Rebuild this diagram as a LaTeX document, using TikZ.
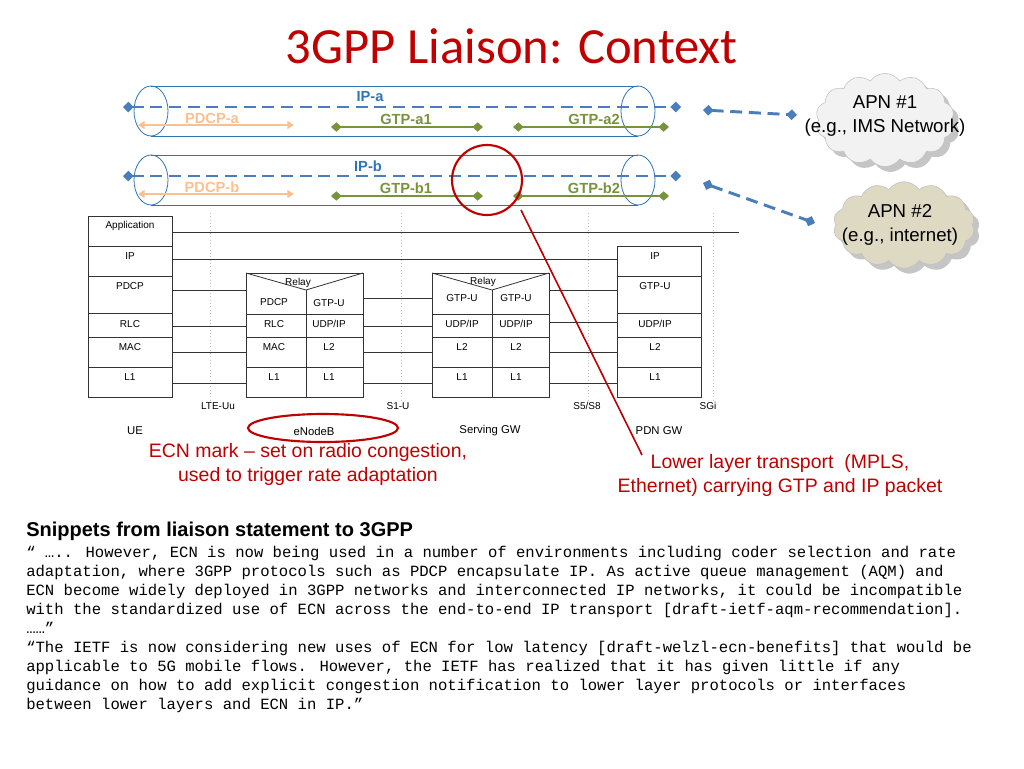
\documentclass[tikz,border=0pt]{standalone}
\usepackage{fontspec}
\setmainfont{Liberation Sans}
\newfontfamily\titlefont{Carlito}
\newfontfamily\monofont{Liberation Mono}
\usetikzlibrary{shapes.symbols,arrows.meta,shadows}
\definecolor{ttl}{HTML}{C00000}
\definecolor{ipb}{HTML}{4A7EBB}
\definecolor{pipe}{HTML}{2E75B6}
\definecolor{gtp}{HTML}{77933C}
\definecolor{pdcp}{HTML}{FAC090}
\definecolor{cl1}{HTML}{F2F2F2}
\definecolor{cl2}{HTML}{DDD9C3}
\begin{document}
\begin{tikzpicture}[x=0.75pt,y=-0.75pt,
  lab/.style={font=\fontsize{7.5}{9}\selectfont,inner sep=0pt},
  stk/.style={draw=black!80,line width=0.6pt},
  conn/.style={draw=black!80,line width=0.6pt},
  dotv/.style={draw=black!25,dotted,line width=0.5pt},
  ipline/.style={draw=ipb,line width=2.2pt,dash pattern=on 9pt off 5pt,{Diamond[length=8pt,width=8pt]}-{Diamond[length=8pt,width=8pt]}},
  gtpline/.style={draw=gtp,line width=2pt,{Diamond[length=8pt,width=7pt]}-{Diamond[length=8pt,width=7pt]}},
  pdcpline/.style={draw=pdcp,line width=2pt,{Triangle[length=5pt,width=6pt]}-{Triangle[length=5pt,width=6pt]}},
  plab/.style={font=\bfseries\fontsize{11}{13}\selectfont,inner sep=0pt},
  cloudn/.style={cloud,cloud puffs=14,cloud puff arc=110,draw=black!25,inner sep=0pt,drop shadow={shadow xshift=4pt,shadow yshift=-4pt,fill=black!45}},
  cloudt/.style={align=center,inner sep=0pt,font=\fontsize{14}{18}\selectfont},
  captxt/.style={text=ttl,align=center,font=\fontsize{14.6}{18}\selectfont}
]
\useasboundingbox (0,0) rectangle (1024,768);
\node[text=ttl,font=\titlefont\fontsize{38}{44}\selectfont] (title) at (512,46) {3GPP Liaison: Context};

% pipes
\foreach \yy in {86,155}{
  \draw[pipe,line width=0.6pt] (151,\yy) -- (638,\yy);
  \draw[pipe,line width=0.6pt] (151,\yy+50) -- (638,\yy+50);
  \draw[pipe,line width=0.6pt] (151,\yy+25) ellipse [x radius=17,y radius=25];
  \draw[pipe,line width=0.6pt] (638,\yy+25) ellipse [x radius=17,y radius=25];
}
\coordinate (ia1) at (123,107); \coordinate (ia2) at (681,107);
\coordinate (ib1) at (123,176); \coordinate (ib2) at (681,176);
\draw[pdcpline] (138,125) coordinate (pa1) -- (294,125) coordinate (pa2);
\draw[pdcpline] (138,194) coordinate (pb1) -- (294,194) coordinate (pb2);
\draw[gtpline] (331,127) coordinate (ga1) -- (483,127) coordinate (ga2);
\draw[gtpline] (513,127) coordinate (ga3) -- (669,127) coordinate (ga4);
\draw[gtpline] (331,196) coordinate (gb1) -- (483,196) coordinate (gb2);
\draw[gtpline] (513,196) coordinate (gb3) -- (669,196) coordinate (gb4);
\draw[ipline] (ia1) -- (ia2);
\draw[ipline] (ib1) -- (ib2);
\node[plab,text=pipe] (ipa) at (370,97) {IP-a};
\node[plab,text=pipe] (ipbl) at (368,166) {IP-b};
\node[plab,text=pdcp] (pdcpa) at (212,118) {PDCP-a};
\node[plab,text=pdcp] (pdcpb) at (212,187) {PDCP-b};
\node[plab,text=gtp] (gtpa1) at (406,119) {GTP-a1};
\node[plab,text=gtp] (gtpa2) at (594,119) {GTP-a2};
\node[plab,text=gtp] (gtpb1) at (406,188) {GTP-b1};
\node[plab,text=gtp] (gtpb2) at (594,188) {GTP-b2};

% clouds
\node[cloudn,fill=cl1,minimum width=104pt,minimum height=70pt] (apn1) at (885,120) {};
\node[cloudt] (apn1t) at (885,116) {APN \#1\\(e.g., IMS Network)};
\node[cloudn,fill=cl2,minimum width=106pt,minimum height=65pt] (apn2) at (904,225) {};
\node[cloudt] (apn2t) at (900,225) {APN \#2\\(e.g., internet)};
\coordinate (c1a) at (703,110); \coordinate (c1b) at (797,115);
\coordinate (c2a) at (703,183); \coordinate (c2b) at (815,223);
\draw[ipline] (c1a) -- (c1b);
\draw[ipline] (c2a) -- (c2b);

% dotted interface lines
\foreach \xx in {210,401,588,713} \draw[dotv] (\xx,213) -- (\xx,400);

% UE stack
\draw[stk] (88,216) rectangle (172,397);
\foreach \yy in {246,276,313,337,367} \draw[stk] (88,\yy) -- (172,\yy);
\node[lab] (ueapp) at (130,226) {Application};
\node[lab] (ueip) at (130,256) {IP};
\node[lab] (uepd) at (130,286) {PDCP};
\node[lab] (uerl) at (130,324) {RLC};
\node[lab] (uema) at (130,347) {MAC};
\node[lab] (uel1) at (130,377) {L1};

% eNodeB
\draw[stk] (246,273) rectangle (363,397);
\draw[stk] (246,273) -- (306,290) -- (363,273);
\draw[stk] (306,290) -- (306,397);
\foreach \yy in {314,337,367} \draw[stk] (246,\yy) -- (363,\yy);
\node[lab] (enr) at (298,283) {Relay};
\node[lab] (enp) at (274,302) {PDCP};
\node[lab] (eng) at (329,303) {GTP-U};
\node[lab] at (274,324) {RLC};
\node[lab] at (329,324) {UDP/IP};
\node[lab] at (274,347) {MAC};
\node[lab] at (329,347) {L2};
\node[lab] at (274,377) {L1};
\node[lab] at (329,377) {L1};

% Serving GW
\draw[stk] (432,273) rectangle (549,397);
\draw[stk] (432,273) -- (492,290) -- (549,273);
\draw[stk] (492,290) -- (492,397);
\foreach \yy in {314,337,367} \draw[stk] (432,\yy) -- (549,\yy);
\node[lab] (sgr) at (483,282) {Relay};
\node[lab] at (462,298) {GTP-U};
\node[lab] at (516,298) {GTP-U};
\node[lab] at (462,324) {UDP/IP};
\node[lab] at (516,324) {UDP/IP};
\node[lab] at (462,347) {L2};
\node[lab] at (516,347) {L2};
\node[lab] at (462,377) {L1};
\node[lab] at (516,377) {L1};

% PDN GW
\draw[stk] (617,246) rectangle (701,397);
\foreach \yy in {276,313,337,367} \draw[stk] (617,\yy) -- (701,\yy);
\node[lab] at (655,256) {IP};
\node[lab] at (655,286) {GTP-U};
\node[lab] at (655,324) {UDP/IP};
\node[lab] at (655,347) {L2};
\node[lab] at (655,377) {L1};

% connectors
\draw[conn] (172,232) -- (739,232);
\draw[conn] (172,259) -- (617,259);
\draw[conn] (172,290) -- (246,290);
\draw[conn] (363,298) -- (432,298);
\draw[conn] (549,290) -- (617,290);
\draw[conn] (172,326) -- (246,326);
\draw[conn] (363,326) -- (432,326);
\draw[conn] (549,322) -- (617,322);
\foreach \yy in {352,383}{
  \draw[conn] (172,\yy) -- (246,\yy);
  \draw[conn] (363,\yy) -- (432,\yy);
  \draw[conn] (549,\yy) -- (617,\yy);
}

% interface labels
\node[lab] at (218,406) {LTE-Uu};
\node[lab] at (398,406) {S1-U};
\node[lab] at (587,406) {S5/S8};
\node[lab] at (708,406) {SGi};
\node[lab,font=\fontsize{8.5}{10}\selectfont] (ue) at (135,431) {UE};
\node[lab,font=\fontsize{8.5}{10}\selectfont] (enb) at (314,431) {eNodeB};
\node[lab,font=\fontsize{8.5}{10}\selectfont] (sgw) at (490,431) {Serving GW};
\node[lab,font=\fontsize{8.5}{10}\selectfont] (pgw) at (659,431) {PDN GW};

% red annotations
\draw[ttl,line width=1.6pt] (323,428) ellipse [x radius=75,y radius=14];
\draw[ttl,line width=1.6pt] (487,180) circle [radius=35];
\coordinate (rl1) at (521,210); \coordinate (rl2) at (642,455);
\draw[ttl,line width=1.2pt] (rl1) -- (rl2);
\node[captxt] (cap1) at (308,464) {ECN mark -- set on radio congestion,\\used to trigger rate adaptation};
\node[captxt] (cap2) at (780,475) {Lower layer transport\ \ (MPLS,\\Ethernet) carrying GTP and IP packet};

% snippets
\node[anchor=west,inner sep=0pt,font=\bfseries\fontsize{15}{18}\selectfont] (snh) at (26,531) {Snippets from liaison statement to 3GPP};
\node[anchor=north west,inner sep=0pt,align=left,font=\monofont\fontsize{11.7}{14.25}\selectfont] (snt) at (26,546) {%
“ ….. However, ECN is now being used in a number of environments including coder selection and rate\\
adaptation, where 3GPP protocols such as PDCP encapsulate IP. As active queue management (AQM) and\\
ECN become widely deployed in 3GPP networks and interconnected IP networks, it could be incompatible\\
with the standardized use of ECN across the end-to-end IP transport [draft-ietf-aqm-recommendation].\\
……”\\
“The IETF is now considering new uses of ECN for low latency [draft-welzl-ecn-benefits] that would be\\
applicable to 5G mobile flows. However, the IETF has realized that it has given little if any\\
guidance on how to add explicit congestion notification to lower layer protocols or interfaces\\
between lower layers and ECN in IP.”};
\end{tikzpicture}
\end{document}
